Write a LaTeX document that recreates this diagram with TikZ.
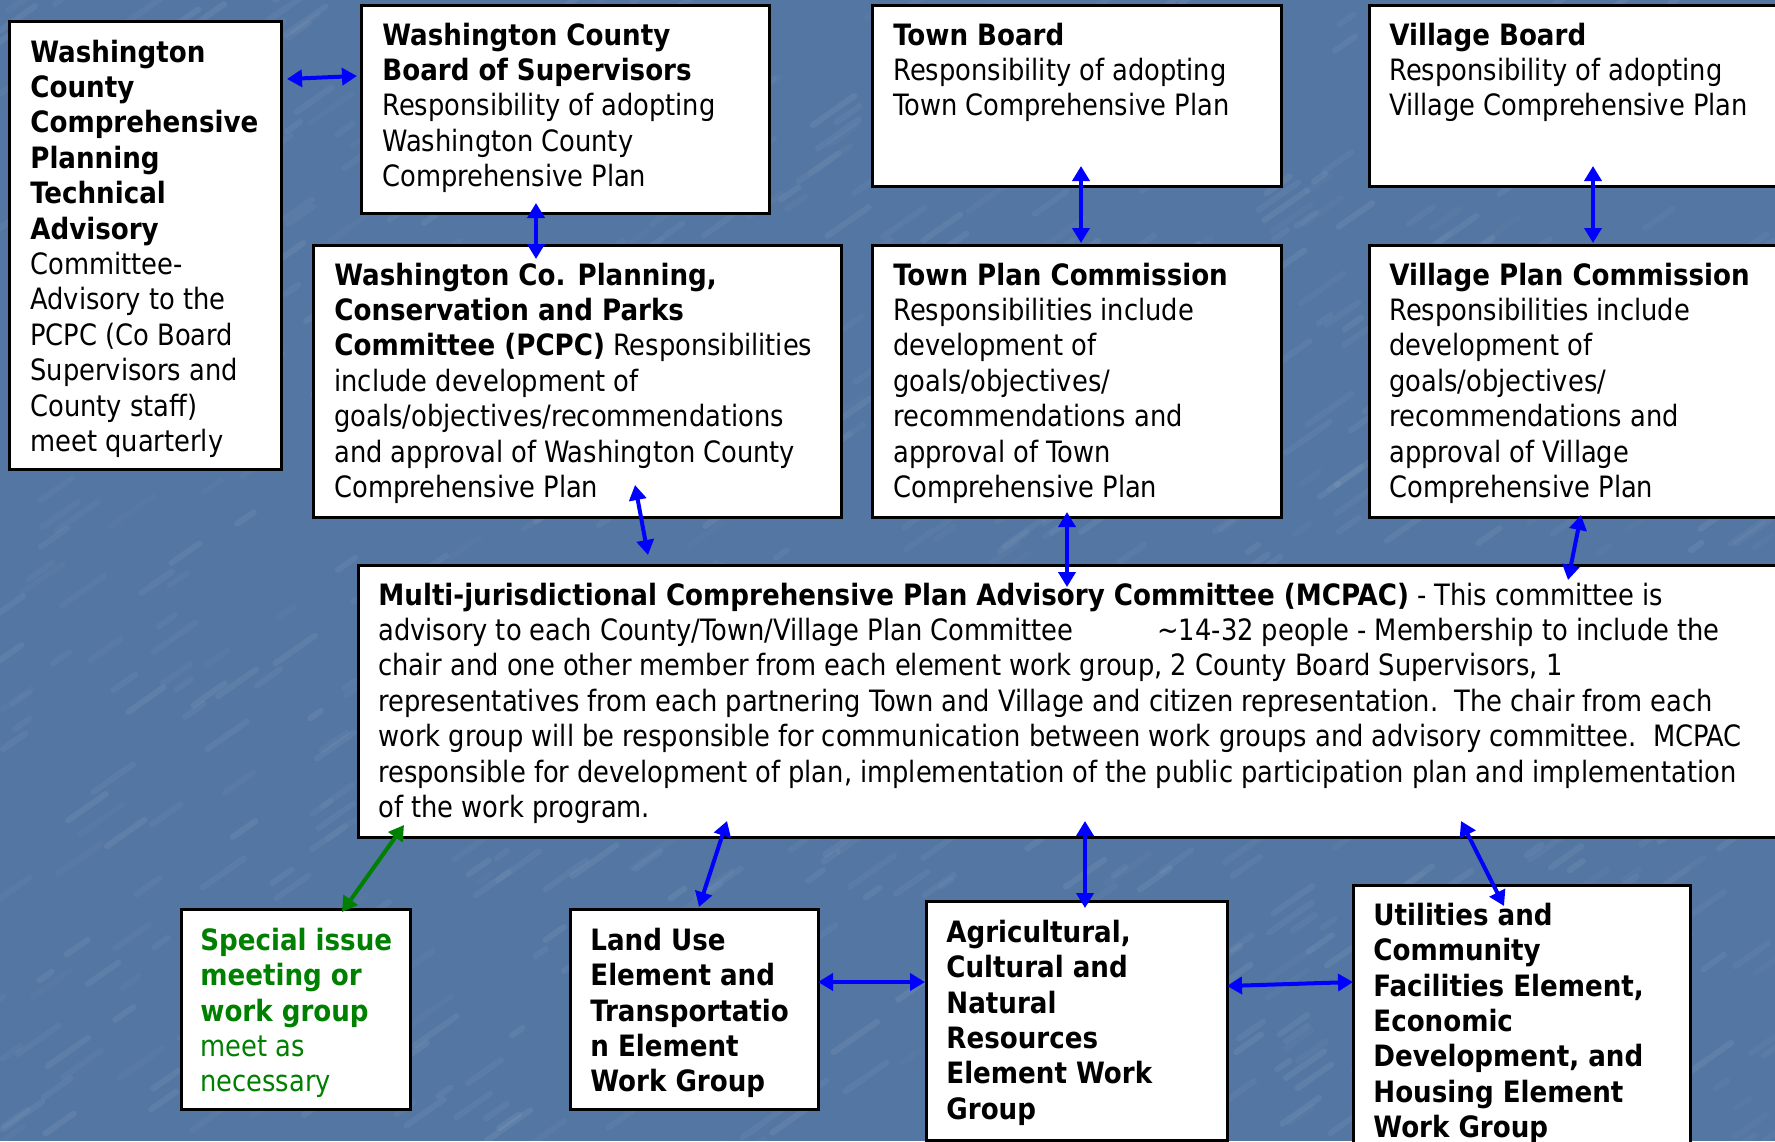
\documentclass[tikz,border=0pt]{standalone}
\usepackage{fontspec}
\setmainfont{DejaVu Sans Condensed}[UprightFeatures={FakeStretch=0.973},BoldFeatures={FakeStretch=0.988}]
\usetikzlibrary{arrows.meta,calc}
\definecolor{bg}{RGB}{83,118,162}
\definecolor{grn}{RGB}{0,128,0}
\newcommand\mybox[5]{\node[box,minimum width={(#4-#2)*0.5pt},minimum height={(#5-#3)*0.5pt}] (#1) at (#2,#3) {};}
\tikzset{
  box/.style={draw=black,line width=1.5pt,fill=white,rectangle,inner sep=0pt,outer sep=0pt,anchor=north west},
  txt/.style={anchor=north west,inner sep=0pt,align=left,font=\fontsize{14.7}{17.7}\selectfont},
  btxt/.style={txt,font=\fontsize{14.7}{17.7}\selectfont\bfseries},
  arr/.style={blue,line width=2pt,{Triangle[length=7.5pt,width=8.5pt]}-{Triangle[length=7.5pt,width=8.5pt]}},
  garr/.style={arr,draw=grn,fill=grn}
}
\begin{document}
\begin{tikzpicture}[x=0.5pt,y=-0.5pt]
\useasboundingbox (0,0) rectangle (1775,1141);
\begin{scope}
\clip (0,0) rectangle (1775,1141);
\fill[bg] (0,0) rectangle (1775,1141);
\pgfmathsetseed{11}
\foreach \i in {1,...,900}{
  \pgfmathsetmacro{\xa}{rnd*1800-20}
  \pgfmathsetmacro{\ya}{rnd*1180-20}
  \pgfmathsetmacro{\ll}{10+rnd*35}
  \pgfmathsetmacro{\op}{0.02+rnd*0.05}
  \draw[white,opacity=\op,line width=3pt,line cap=round] (\xa,\ya) -- ++(\ll,-0.7*\ll);
}
\end{scope}
% boxes
\mybox{A}{9}{21}{281}{469}
\mybox{B}{361}{5}{769}{213}
\mybox{C}{313}{245}{841}{517}
\mybox{TB}{872}{5}{1281}{186}
\mybox{VB}{1369}{5}{1795}{186}
\mybox{TPC}{872}{245}{1281}{517}
\mybox{VPC}{1369}{245}{1795}{517}
\mybox{M}{358}{565}{1795}{837}
\mybox{S}{181}{909}{410}{1109}
\mybox{LU}{570}{909}{818}{1109}
\mybox{AG}{926}{901}{1227}{1140}
\mybox{UT}{1353}{885}{1690}{1160}
% texts
\node[txt] (tA) at ($(A.north west)+(21,16)$) {\strut\textbf{Washington}\\\textbf{County}\\\textbf{Comprehensive}\\\textbf{Planning}\\\textbf{Technical}\\\textbf{Advisory}\\Committee-\\Advisory to the\\PCPC (Co Board\\Supervisors and\\County staff)\\meet quarterly};
\node[txt] (tB) at ($(B.north west)+(21,15)$) {\strut\textbf{Washington County}\\\textbf{Board of Supervisors}\\Responsibility of adopting\\Washington County\\Comprehensive Plan};
\node[txt] (tC) at ($(C.north west)+(21,15)$) {\strut\textbf{Washington Co. Planning,}\\\textbf{Conservation and Parks}\\\textbf{Committee (PCPC)} Responsibilities\\include development of\\goals/objectives/recommendations\\and approval of Washington County\\Comprehensive Plan};
\node[txt] (tTB) at ($(TB.north west)+(21,15)$) {\strut\textbf{Town Board}\\Responsibility of adopting\\Town Comprehensive Plan};
\node[txt] (tTPC) at ($(TPC.north west)+(21,15)$) {\strut\textbf{Town Plan Commission}\\Responsibilities include\\development of\\goals/objectives/\\recommendations and\\approval of Town\\Comprehensive Plan};
\node[txt] (tVB) at ($(VB.north west)+(20,15)$) {\strut\textbf{Village Board}\\Responsibility of adopting\\Village Comprehensive Plan};
\node[txt] (tVPC) at ($(VPC.north west)+(20,15)$) {\strut\textbf{Village Plan Commission}\\Responsibilities include\\development of\\goals/objectives/\\recommendations and\\approval of Village\\Comprehensive Plan};
\node[txt] (tM) at ($(M.north west)+(20,15)$) {\strut\textbf{Multi-jurisdictional Comprehensive Plan Advisory Committee (MCPAC)} - This committee is\\advisory to each County/Town/Village Plan Committee\hspace*{42pt}\textasciitilde14-32 people - Membership to include the\\chair and one other member from each element work group, 2 County Board Supervisors, 1\\representatives from each partnering Town and Village and citizen representation.\ \ The chair from each\\work group will be responsible for communication between work groups and advisory committee.\ \ MCPAC\\responsible for development of plan, implementation of the public participation plan and implementation\\of the work program.};
\node[txt,text=grn] (tS) at ($(S.north west)+(19,16)$) {\strut\textbf{Special issue}\\\textbf{meeting or}\\\textbf{work group}\\meet as\\necessary};
\node[btxt] (tLU) at ($(LU.north west)+(20,16)$) {\strut Land Use\\Element and\\Transportatio\\n Element\\Work Group};
\node[btxt] (tAG) at ($(AG.north west)+(20,16)$) {\strut Agricultural,\\Cultural and\\Natural\\Resources\\Element Work\\Group};
\node[btxt] (tUT) at ($(UT.north west)+(20,15)$) {\strut Utilities and\\Community\\Facilities Element,\\Economic\\Development, and\\Housing Element\\Work Group};
% connectors
\draw[arr] ([shift={(6,58)}]A.north east) -- ([shift={(-4,71)}]B.north west);
\draw[arr] ([shift={(175,-10)}]B.south west) -- ([shift={(223,14)}]C.north west);
\draw[arr] ([shift={(322,-32)}]C.south west) -- ([shift={(290,-10)}]M.north west);
\draw[arr] ([shift={(209,-20)}]TB.south west) -- ([shift={(209,-2)}]TPC.north west);
\draw[arr] ([shift={(224,-20)}]VB.south west) -- ([shift={(224,-2)}]VPC.north west);
\draw[arr] ([shift={(195,-5)}]TPC.south west) -- ([shift={(709,22)}]M.north west);
\draw[arr] ([shift={(212,-2)}]VPC.south west) -- ([shift={(1210,15)}]M.north west);
\draw[garr] ([shift={(46,-12)}]M.south west) -- ([shift={(161,3)}]S.north west);
\draw[arr] ([shift={(369,-16)}]M.south west) -- ([shift={(129,-2)}]LU.north west);
\draw[arr] ([shift={(727,-16)}]M.south west) -- ([shift={(159,7)}]AG.north west);
\draw[arr] ([shift={(1103,-16)}]M.south west) -- ([shift={(151,21)}]UT.north west);
\draw[arr] ([shift={(248,73)}]LU.north west) -- ([shift={(-1,81)}]AG.north west);
\draw[arr] ([shift={(301,85)}]AG.north west) -- ([shift={(0,97)}]UT.north west);
\end{tikzpicture}
\end{document}
